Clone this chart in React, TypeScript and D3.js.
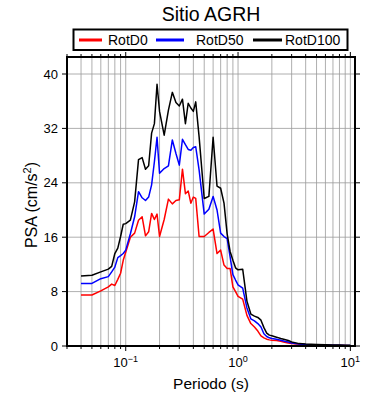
import { useRef, useEffect } from 'react';
import * as d3 from 'd3';

// Periods (s) and spectral accelerations (cm/s^2)
const periods = [
  0.04, 0.05, 0.06, 0.07, 0.075, 0.08, 0.085, 0.09, 0.095, 0.1,
  0.11, 0.12, 0.13, 0.14, 0.15, 0.16, 0.17, 0.18, 0.19, 0.2,
  0.22, 0.24, 0.26, 0.28, 0.3, 0.32, 0.34, 0.36, 0.38, 0.4,
  0.42, 0.45, 0.5, 0.55, 0.6, 0.65, 0.7, 0.75, 0.8, 0.85,
  0.9, 0.95, 1.0, 1.1, 1.2, 1.3, 1.4, 1.5, 1.6, 1.7,
  1.8, 1.9, 2.0, 2.2, 2.4, 2.6, 2.8, 3.0, 3.5, 4.0,
  5.0, 6.0, 7.0, 8.0, 9.0, 10.0
];

const rotD0 = [
  7.5, 7.5, 8.1, 8.7, 9.1, 8.9, 9.8, 10.7, 12.6, 13.8,
  16.0, 16.6, 18.5, 19.0, 16.2, 16.8, 19.5, 18.6, 19.4, 16.1,
  18.6, 21.6, 20.9, 21.4, 21.5, 26.0, 22.4, 22.8, 21.0, 21.9,
  21.7, 16.1, 16.1, 16.7, 17.2, 13.6, 14.1, 11.9, 11.4, 11.4,
  8.7, 8.0, 7.3, 6.9, 4.5, 3.3, 2.8, 2.2, 1.5, 1.2,
  1.0, 0.9, 0.85, 0.8, 0.7, 0.55, 0.45, 0.35, 0.25, 0.18,
  0.12, 0.1, 0.08, 0.07, 0.06, 0.05
];

const rotD50 = [
  9.2, 9.2, 9.9, 10.2, 10.9, 11.6, 13.0, 13.3, 13.6, 14.1,
  16.5, 19.0, 22.7, 21.8, 21.4, 21.9, 23.7, 27.1, 30.7, 25.4,
  26.1, 26.5, 30.3, 28.3, 26.6, 30.4, 29.6, 28.9, 28.8, 29.2,
  29.3, 25.9, 19.4, 20.1, 22.0, 20.0, 16.6, 16.1, 15.8, 13.1,
  10.5, 9.7, 9.0, 8.5, 5.6, 4.0, 3.7, 3.3, 2.8, 1.8,
  1.4, 1.2, 1.1, 1.0, 0.85, 0.7, 0.6, 0.45, 0.3, 0.22,
  0.16, 0.13, 0.11, 0.1, 0.09, 0.08
];

const rotD100 = [
  10.3, 10.4, 10.9, 11.3, 11.7, 13.6, 14.4, 16.1, 17.9, 18.0,
  18.5, 21.2, 27.4, 27.7, 26.0, 26.5, 31.3, 32.7, 38.5, 34.5,
  31.0, 34.7, 37.3, 35.8, 35.3, 36.3, 32.7, 35.7, 35.0, 34.5,
  35.9, 30.8, 21.7, 22.0, 30.7, 23.5, 23.2, 21.0, 16.5, 13.9,
  12.6, 11.5, 11.2, 11.3, 6.6, 4.7, 4.4, 4.2, 3.8, 2.7,
  1.9, 1.6, 1.5, 1.3, 1.1, 0.95, 0.8, 0.6, 0.35, 0.28,
  0.22, 0.17, 0.15, 0.13, 0.12, 0.1
];

const seriesNames = ['RotD0', 'RotD50', 'RotD100'];
const seriesColors = ['#ff0000', '#0000ff', '#000000'];
const yTicks = [0, 8, 16, 24, 32, 40];
const xDecades = [-1, 0, 1];

const FONT = '"Liberation Sans", Arial, Helvetica, sans-serif';

export default function App() {
  const svgRef = useRef<SVGSVGElement>(null);
  const width = 390;
  const height = 400;

  useEffect(() => {
    if (!svgRef.current) return;
    const svg = d3.select(svgRef.current);
    svg.selectAll('*').remove();

    const margin = { top: 57, right: 35, bottom: 54, left: 67 };
    const innerWidth = width - margin.left - margin.right;
    const innerHeight = height - margin.top - margin.bottom;

    const x = d3.scaleLog().domain([0.03, 11]).range([0, innerWidth]);
    const y = d3.scaleLinear().domain([0, 42.5]).range([innerHeight, 0]);

    const g = svg.append('g')
      .attr('transform', `translate(${margin.left},${margin.top})`);

    // log minor ticks (every 1..9 x 10^k) inside the domain
    const minor: number[] = [];
    for (let k = -2; k <= 1; k++) {
      for (let m = 1; m <= 9; m++) {
        const v = m * Math.pow(10, k);
        if (v >= 0.03 && v <= 11) minor.push(v);
      }
    }

    // grid
    g.append('g').selectAll('line').data(minor).join('line')
      .attr('x1', d => x(d)).attr('x2', d => x(d))
      .attr('y1', 0).attr('y2', innerHeight)
      .attr('stroke', '#9a9a9a').attr('stroke-width', 0.8);
    g.append('g').selectAll('line').data(yTicks).join('line')
      .attr('x1', 0).attr('x2', innerWidth)
      .attr('y1', d => y(d)).attr('y2', d => y(d))
      .attr('stroke', '#9a9a9a').attr('stroke-width', 0.8);

    // ticks outside the frame
    const isMajor = (d: number) => Math.abs(Math.log10(d) - Math.round(Math.log10(d))) < 1e-6;
    g.append('g').selectAll('line').data(minor).join('line')
      .attr('x1', d => x(d)).attr('x2', d => x(d))
      .attr('y1', innerHeight).attr('y2', d => innerHeight + (isMajor(d) ? 5 : 3))
      .attr('stroke', '#000').attr('stroke-width', 1);
    g.append('g').selectAll('line').data(minor).join('line')
      .attr('x1', d => x(d)).attr('x2', d => x(d))
      .attr('y1', 0).attr('y2', d => -(isMajor(d) ? 5 : 3))
      .attr('stroke', '#000').attr('stroke-width', 1);
    g.append('g').selectAll('line').data(yTicks).join('line')
      .attr('x1', -5).attr('x2', 0)
      .attr('y1', d => y(d)).attr('y2', d => y(d))
      .attr('stroke', '#000').attr('stroke-width', 1);
    g.append('g').selectAll('line').data(yTicks).join('line')
      .attr('x1', innerWidth).attr('x2', innerWidth + 5)
      .attr('y1', d => y(d)).attr('y2', d => y(d))
      .attr('stroke', '#000').attr('stroke-width', 1);

    // curves
    const line = d3.line<number>()
      .x((_, i) => x(periods[i]))
      .y(d => y(d));
    [rotD0, rotD50, rotD100].forEach((vals, i) => {
      g.append('path')
        .datum(vals)
        .attr('fill', 'none')
        .attr('stroke', seriesColors[i])
        .attr('stroke-width', 1.5)
        .attr('stroke-linejoin', 'round')
        .attr('d', line);
    });

    // frame
    g.append('rect')
      .attr('width', innerWidth).attr('height', innerHeight)
      .attr('fill', 'none').attr('stroke', '#000').attr('stroke-width', 2);

    // y tick labels
    g.append('g').selectAll('text').data(yTicks).join('text')
      .attr('x', -9).attr('y', d => y(d))
      .attr('dy', '0.36em')
      .attr('text-anchor', 'end')
      .attr('font-family', FONT).attr('font-size', 13)
      .text(d => String(d));

    // x tick labels 10^k
    const xl = g.append('g').selectAll('text').data(xDecades).join('text')
      .attr('x', d => x(Math.pow(10, d)))
      .attr('y', innerHeight + 21)
      .attr('text-anchor', 'middle')
      .attr('font-family', FONT).attr('font-size', 13);
    xl.append('tspan').text('10');
    xl.append('tspan')
      .attr('dy', -5).attr('font-size', 9)
      .text(d => (d < 0 ? '\u2212' + Math.abs(d) : String(d)));

    // axis titles
    svg.append('text')
      .attr('x', 211).attr('y', 389)
      .attr('text-anchor', 'middle')
      .attr('font-family', FONT).attr('font-size', 15.5)
      .text('Periodo (s)');

    const yt = svg.append('text')
      .attr('transform', `translate(37,205) rotate(-90)`)
      .attr('text-anchor', 'middle')
      .attr('font-family', FONT).attr('font-size', 16);
    yt.append('tspan').text('PSA (cm/s');
    yt.append('tspan').attr('dy', -6).attr('font-size', 11).text('2');
    yt.append('tspan').attr('dy', 6).text(')');

    // title
    svg.append('text')
      .attr('x', 211).attr('y', 21)
      .attr('text-anchor', 'middle')
      .attr('font-family', FONT).attr('font-size', 19.5)
      .text('Sitio AGRH');

    // legend
    svg.append('rect')
      .attr('x', 73.5).attr('y', 29.5).attr('width', 274).attr('height', 20.5)
      .attr('fill', '#fff').attr('stroke', '#000').attr('stroke-width', 2);
    const legendLines = [[79, 102, 108], [156, 184, 196], [253, 282, 285]];
    seriesNames.forEach((name, i) => {
      const [x1, x2, tx] = legendLines[i];
      svg.append('line')
        .attr('x1', x1).attr('x2', x2).attr('y1', 40).attr('y2', 40)
        .attr('stroke', seriesColors[i]).attr('stroke-width', 3);
      svg.append('text')
        .attr('x', tx).attr('y', 45)
        .attr('font-family', FONT).attr('font-size', 14)
        .text(name);
    });
  }, []);

  return (
    <div style={{ position: 'absolute', left: 0, top: 0 }}>
      <svg ref={svgRef} width={width} height={height} style={{ display: 'block', background: '#fff' }} />
    </div>
  );
}
